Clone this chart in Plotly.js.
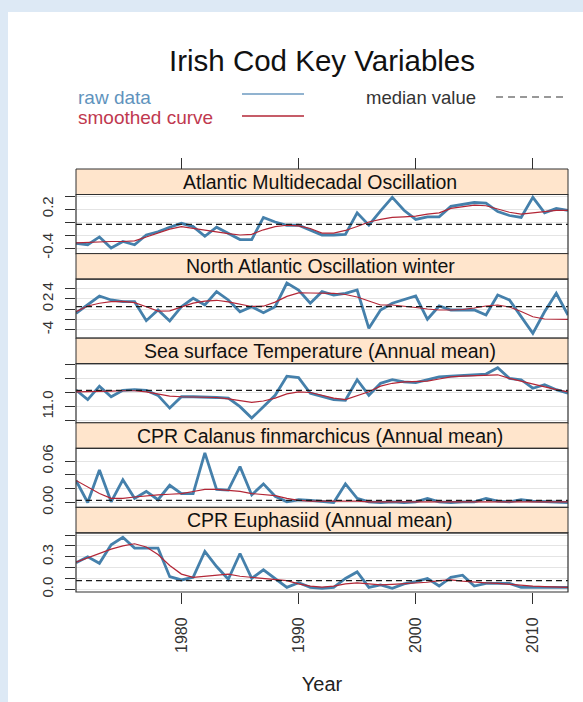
<!DOCTYPE html>
<html><head><meta charset="utf-8">
<script src="https://cdn.plot.ly/plotly-3.0.1.min.js"></script>
<style>
html,body{margin:0;padding:0;background:#dde9f5;width:583px;height:702px;overflow:hidden}
#chart{position:absolute;left:8px;top:12px;width:575px;height:690px;background:#fff}
</style>
</head><body><div id="chart"></div><script>
// ---------------- data ----------------
const years = [1971,1972,1973,1974,1975,1976,1977,1978,1979,1980,1981,1982,1983,1984,1985,1986,1987,1988,1989,1990,
  1991,1992,1993,1994,1995,1996,1997,1998,1999,2000,2001,2002,2003,2004,2005,2006,2007,2008,2009,2010,2011,2012,2013];

const panelTitles = ["Atlantic Multidecadal Oscillation","North Atlantic Oscillation winter",
  "Sea surface Temperature (Annual mean)","CPR Calanus finmarchicus (Annual mean)","CPR Euphasiid (Annual mean)"];

const amoRaw = [-0.33,-0.35,-0.23,-0.40,-0.30,-0.35,-0.20,-0.15,-0.08,-0.02,-0.07,-0.22,-0.08,-0.17,-0.27,-0.27,0.07,0.00,-0.05,-0.05,
  -0.12,-0.20,-0.20,-0.19,0.14,-0.05,0.17,0.38,0.18,0.04,0.08,0.08,0.24,0.27,0.30,0.29,0.16,0.10,0.07,0.38,0.14,0.21,0.18];
const amoSmooth = [-0.32,-0.31,-0.30,-0.30,-0.30,-0.29,-0.23,-0.17,-0.11,-0.07,-0.10,-0.12,-0.15,-0.18,-0.20,-0.19,-0.12,-0.07,-0.05,-0.06,
  -0.10,-0.17,-0.17,-0.13,-0.07,0.00,0.04,0.07,0.08,0.09,0.12,0.14,0.21,0.24,0.26,0.25,0.20,0.15,0.12,0.14,0.17,0.18,0.18];

const naoRaw = [-0.78,0.83,2.58,1.81,1.48,1.48,-2.21,-0.14,-2.27,0.50,2.14,0.83,3.42,1.81,-0.47,0.50,-0.66,0.50,5.10,3.75,
  1.17,3.42,2.78,3.11,3.75,-3.69,-0.14,1.17,1.94,2.58,-1.94,0.64,-0.14,-0.14,-0.14,-1.11,2.78,1.81,-1.44,-4.66,-0.47,3.11,-1.11];
const naoSmooth = [-0.47,0.64,1.17,1.50,1.55,1.30,0.50,-0.35,-0.30,0.40,1.20,1.60,1.75,1.45,0.95,0.55,0.60,1.40,2.50,3.20,
  3.16,3.11,3.11,2.87,2.39,1.61,0.83,0.83,0.64,0.35,0.06,-0.14,-0.14,-0.04,0.25,0.64,0.83,0.45,-0.43,-1.44,-1.88,-1.94,-1.94];

const sstRaw = [11.235,11.10,11.29,11.14,11.23,11.24,11.23,11.16,10.98,11.14,11.14,11.14,11.13,11.12,11.00,10.84,11.00,11.16,11.43,11.41,
  11.19,11.14,11.10,11.09,11.38,11.16,11.33,11.38,11.35,11.34,11.38,11.42,11.43,11.44,11.45,11.46,11.55,11.40,11.38,11.26,11.31,11.24,11.19];
const sstSmooth = [11.21,11.21,11.21,11.22,11.225,11.225,11.21,11.18,11.15,11.14,11.14,11.14,11.13,11.11,11.08,11.06,11.08,11.12,11.18,11.21,
  11.20,11.16,11.12,11.10,11.15,11.21,11.29,11.33,11.35,11.35,11.36,11.39,11.42,11.43,11.44,11.45,11.45,11.40,11.36,11.32,11.27,11.24,11.21];

const calRaw = [0.032,0.000,0.047,0.001,0.033,0.006,0.016,0.004,0.025,0.013,0.013,0.072,0.019,0.018,0.052,0.011,0.027,0.009,0.001,0.004,
  0.003,0.001,0.000,0.027,0.006,0.001,0.000,0.001,0.000,0.001,0.006,0.001,0.000,0.001,0.001,0.006,0.002,0.001,0.004,0.002,0.001,0.001,0.000];
const calSmooth = [0.032,0.022,0.013,0.006,0.006,0.008,0.010,0.011,0.012,0.013,0.016,0.019,0.019,0.018,0.016,0.013,0.012,0.010,0.006,0.003,
  0.002,0.002,0.003,0.003,0.002,0.001,0.001,0.001,0.001,0.001,0.001,0.001,0.001,0.001,0.001,0.001,0.001,0.001,0.001,0.001,0.001,0.001,0.001];

const eupRaw = [0.245,0.30,0.24,0.41,0.48,0.38,0.38,0.38,0.116,0.086,0.11,0.35,0.21,0.092,0.33,0.10,0.18,0.10,0.018,0.06,
  0.018,0.009,0.018,0.10,0.16,0.018,0.04,0.009,0.05,0.07,0.10,0.03,0.11,0.13,0.03,0.055,0.053,0.055,0.018,0.02,0.018,0.017,0.018];
const eupSmooth = [0.25,0.29,0.33,0.37,0.40,0.42,0.39,0.32,0.22,0.14,0.11,0.12,0.13,0.14,0.12,0.11,0.10,0.09,0.08,0.05,
  0.03,0.02,0.03,0.05,0.06,0.05,0.04,0.045,0.05,0.055,0.065,0.08,0.086,0.075,0.065,0.06,0.055,0.045,0.035,0.03,0.025,0.02,0.018];

const medians = [-0.035, 0.5, 11.23, 0.003, 0.08];

const yTickVals = [[-0.4,-0.2,0,0.2,0.4],[-4,-2,0,2,4],[10.8,11.0,11.2,11.4,11.6],[0,0.02,0.04,0.06],[0,0.1,0.2,0.3,0.4,0.5]];
const yTickText = [["-0.4","","","0.2",""],["-4","","0","2","4"],["","11.0","","",""],["0.00","","","0.06"],["0.0","","","0.3","",""]];
const xTickVals = [1980,1990,2000,2010];

// ---------------- layout helpers ----------------
const rawSeries = [amoRaw, naoRaw, sstRaw, calRaw, eupRaw];
const smoothSeries = [amoSmooth, naoSmooth, sstSmooth, calSmooth, eupSmooth];
const yRanges = [[-0.486,0.423],[-5.61,5.86],[10.773,11.606],[-0.0071,0.0786],[-0.025,0.520]];

const FONT = "Liberation Sans, Arial, Helvetica, sans-serif";
const BLOCK = 0.2, PANEL = 0.1397, STRIP = BLOCK - PANEL;
const BORDER = "#303030";

const traces = [];
const layout = {
  width: 575, height: 690,
  margin: {l: 68, r: 15, t: 157, b: 110},
  paper_bgcolor: "#ffffff", plot_bgcolor: "#ffffff",
  showlegend: false,
  font: {family: FONT, color: "#222"},
  title: {text: "Irish Cod Key Variables", font: {family: FONT, size: 29.5, color: "#111"},
          xref: "paper", x: 0.5, xanchor: "center", yref: "container", y: 0.930, yanchor: "middle"},
  shapes: [], annotations: [],
  xaxis: {range: [years[0], years[years.length-1]], anchor: "y5", tickvals: xTickVals, ticks: "outside", ticklen: 11,
          tickcolor: BORDER, tickangle: -90, tickfont: {size: 16, color: "#333"}, ticklabelstandoff: 7,
          showgrid: false, zeroline: false, showline: false, fixedrange: true,
          title: {text: "Year", font: {size: 20, color: "#222"}, standoff: 25}},
  xaxis2: {range: [years[0], years[years.length-1]], overlaying: "x", anchor: "free", position: 1, side: "top",
           tickvals: xTickVals, ticks: "outside", ticklen: 11, tickcolor: BORDER, showticklabels: false,
           showgrid: false, zeroline: false, showline: false, fixedrange: true}
};

for (let i = 0; i < 5; i++) {
  const yn = i === 0 ? "y" : "y" + (i + 1);
  const ykey = i === 0 ? "yaxis" : "yaxis" + (i + 1);
  const lo = 1 - BLOCK * (i + 1), hi = lo + PANEL;
  layout[ykey] = {domain: [lo, hi], anchor: "x", range: yRanges[i], tickvals: yTickVals[i], ticktext: yTickText[i],
    ticks: "outside", ticklen: 10, tickcolor: BORDER, tickangle: -90, tickfont: {size: 15, color: "#333"},
    ticklabelstandoff: 6, showgrid: true, gridcolor: "#e4e4e4", gridwidth: 1, zeroline: false, showline: false, fixedrange: true};

  traces.push({x: years, y: rawSeries[i], xaxis: "x", yaxis: yn, mode: "lines", hoverinfo: "skip",
               line: {color: "#4580ab", width: 2.8}});
  traces.push({x: years, y: smoothSeries[i], xaxis: "x", yaxis: yn, mode: "lines", hoverinfo: "skip",
               line: {color: "#b32636", width: 1.2}});
  traces.push({x: [years[0], years[years.length-1]], y: [medians[i], medians[i]], xaxis: "x", yaxis: yn, mode: "lines",
               hoverinfo: "skip", line: {color: "#1a1a1a", width: 1.2, dash: "6px,4px"}});

  // strip
  layout.shapes.push({type: "rect", xref: "paper", yref: "paper", x0: 0, x1: 1, y0: hi, y1: hi + STRIP,
                      fillcolor: "#ffe5cc", line: {color: BORDER, width: 1}, layer: "above"});
  // panel frame
  layout.shapes.push({type: "rect", xref: "paper", yref: "paper", x0: 0, x1: 1, y0: lo, y1: hi,
                      fillcolor: "rgba(0,0,0,0)", line: {color: BORDER, width: 1.2}, layer: "above"});
  layout.annotations.push({text: panelTitles[i], xref: "paper", yref: "paper", x: 0.496, y: hi + STRIP / 2,
                           xanchor: "center", yanchor: "middle", showarrow: false,
                           font: {family: FONT, size: 19.5, color: "#111"}});
}

// dummy trace so the top tick axis is drawn
traces.push({x: [years[0]], y: [null], xaxis: "x2", yaxis: "y", mode: "lines", hoverinfo: "skip", showlegend: false});

// legend (R style: text then line sample)
const legY1 = 1.1702, legY2 = 1.1206;
layout.annotations.push({text: "raw data", xref: "paper", yref: "paper", x: 0, y: legY1, xanchor: "left", yanchor: "middle",
  showarrow: false, font: {family: FONT, size: 19, color: "#5f93bd"}});
layout.annotations.push({text: "smoothed curve", xref: "paper", yref: "paper", x: 0, y: legY2, xanchor: "left", yanchor: "middle",
  showarrow: false, font: {family: FONT, size: 19, color: "#c0394f"}});
layout.annotations.push({text: "median value", xref: "paper", yref: "paper", x: 0.5854, y: legY1, xanchor: "left", yanchor: "middle",
  showarrow: false, font: {family: FONT, size: 18.5, color: "#333"}});
layout.shapes.push({type: "line", xref: "paper", yref: "paper", x0: 0.3374, x1: 0.4634, y0: 1.1773, y1: 1.1773,
  line: {color: "#6d9ac0", width: 1.5}});
layout.shapes.push({type: "line", xref: "paper", yref: "paper", x0: 0.3374, x1: 0.4634, y0: 1.1253, y1: 1.1253,
  line: {color: "#b32636", width: 1.5}});
layout.shapes.push({type: "line", xref: "paper", yref: "paper", x0: 0.8537, x1: 0.998, y0: 1.1702, y1: 1.1702,
  line: {color: "#333", width: 1.2, dash: "7px,5px"}});

Plotly.newPlot("chart", traces, layout, {displayModeBar: false, staticPlot: true});
</script></body></html>
